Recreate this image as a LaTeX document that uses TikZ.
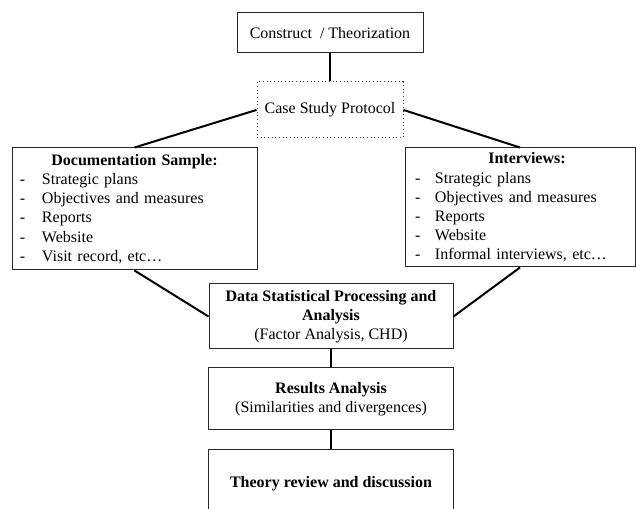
\documentclass[tikz,border=0pt]{standalone}
\usepackage{fontspec}
\setmainfont{Liberation Serif}
\usetikzlibrary{positioning}
\definecolor{Trait}{RGB}{40,40,40}
\tikzset{stage/.style={rectangle, draw=Trait, line width=0.75pt,
  align=center, inner sep=2pt, font=\fontsize{12pt}{14.4pt}\selectfont}}
\tikzset{stagedot/.style={stage, draw=black!75, dotted, line width=0.7pt}}
\tikzset{stagelist/.style={stage, align=left, inner ysep=2pt}}
\tikzset{link/.style={draw=black, line width=1.5pt}}
\newcommand{\itm}[1]{\makebox[16.5pt][l]{-}#1}
\newcommand{\itmr}[1]{\makebox[15pt][l]{-}#1}

\begin{document}
\begin{tikzpicture}[x=0.75pt, y=-0.75pt]
\useasboundingbox (0,0) rectangle (636,509);
\node[stage, minimum width=139.5pt, minimum height=30pt] (top) at (330,33) {Construct~~/ Theorization};
\node[stagedot, minimum width=109.5pt, minimum height=42pt, below=21pt of top] (cpp) {Case Study Protocol};
\node[stagelist, minimum width=183.75pt, minimum height=91.5pt, inner xsep=6pt, text width=171.75pt] (docs) at (134.5,209)
  {\hfill\textbf{Documentation Sample:}\hfill\null\\
   \itm{Strategic plans}\\ \itm{Objectives and measures}\\ \itm{Reports}\\
   \itm{Website}\\ \itm{Visit record, etc…}};
\node[stagelist, minimum width=172.5pt, minimum height=89.25pt, inner xsep=7.5pt, text width=157.5pt] (intv) at (520,207.5)
  {\hspace*{10.5pt}\hfill\textbf{Interviews:}\hfill\null\\
   \itmr{Strategic plans}\\ \itmr{Objectives and measures}\\ \itmr{Reports}\\
   \itmr{Website}\\ \itmr{Informal interviews, etc…}};
\node[stage, minimum width=183pt, minimum height=48.75pt] (dsp) at (331,316.5)
  {\textbf{Data Statistical Processing and}\\ \textbf{Analysis}\\ (Factor Analysis, CHD)};
\node[stage, minimum width=183.75pt, minimum height=46.5pt, below=13.5pt of dsp] (res)
  {\textbf{Results Analysis}\\ (Similarities and divergences)};
\node[stage, minimum width=183.75pt, minimum height=51pt, below=14.25pt of res] (thr)
  {\textbf{Theory review and discussion}};
\draw[link] (top)--(cpp);
\draw[link] (cpp.west)--(docs.north); \draw[link] (cpp.east)--(intv.north);
\draw[link] (docs.south)--(dsp.west); \draw[link] (intv.south)--(dsp.east);
\draw[link] (dsp)--(res); \draw[link] (res)--(thr);
\end{tikzpicture}
\end{document}
